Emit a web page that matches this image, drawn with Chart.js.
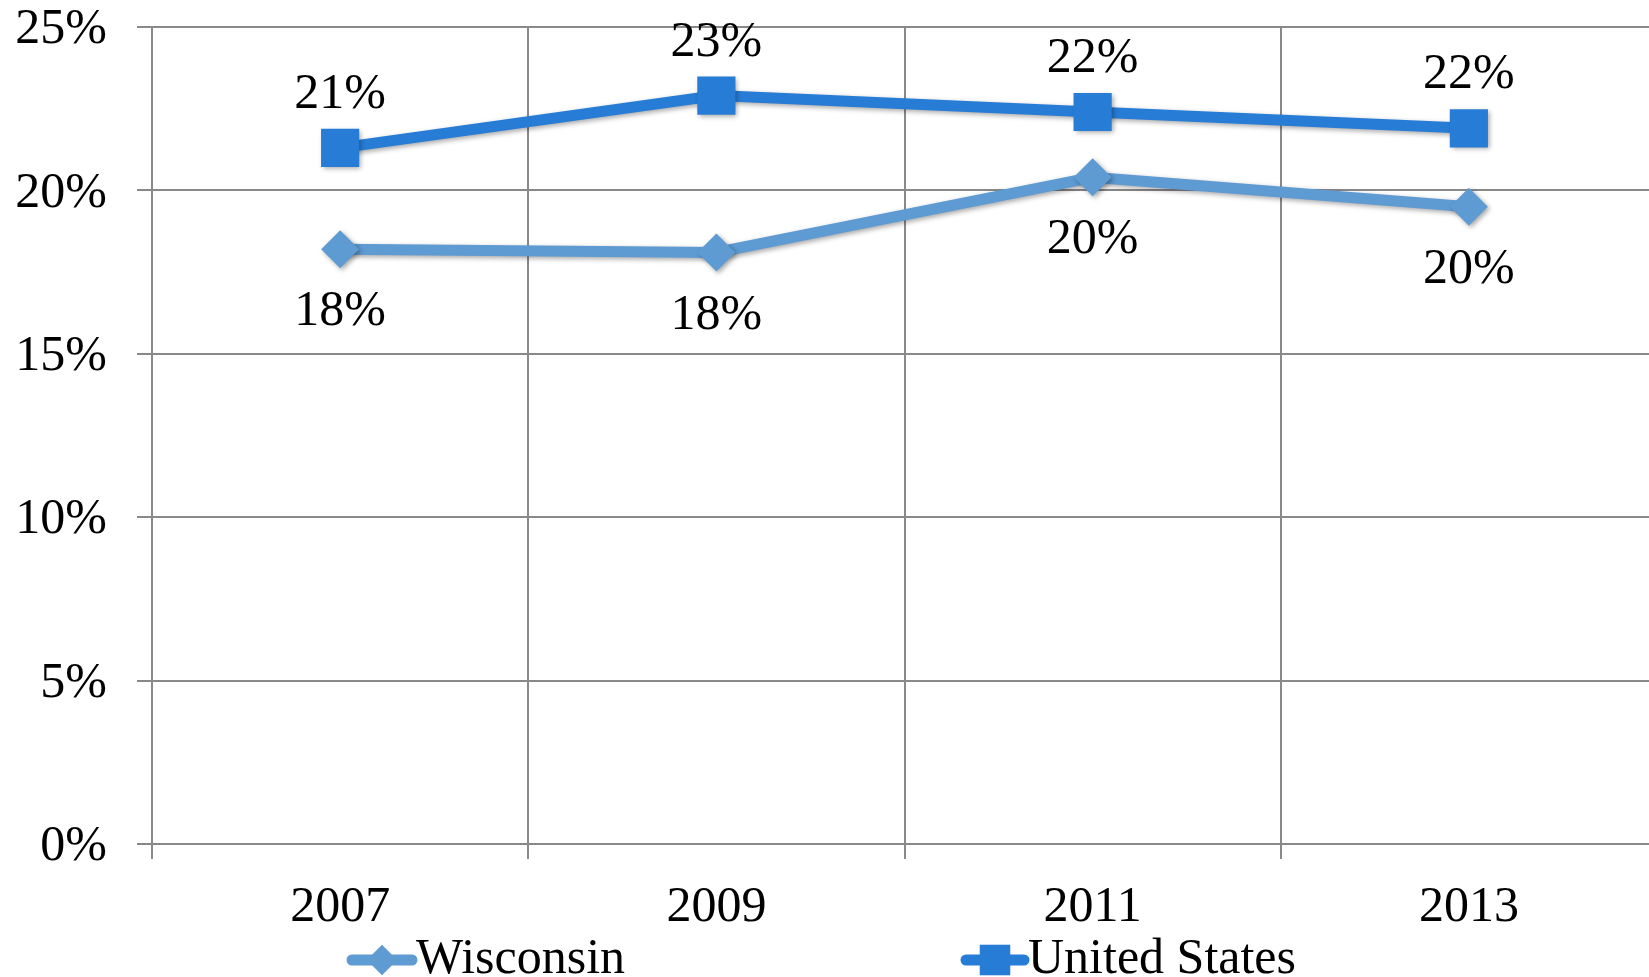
<!DOCTYPE html>
<html><head><meta charset="utf-8">
<script src="https://cdn.jsdelivr.net/npm/chart.js@4"></script>
<style>html,body{margin:0;padding:0;overflow:hidden;background:#fff}canvas{display:block}</style>
</head><body><canvas id="c" width="1684" height="977"></canvas>
<script>
const years = ['2007', '2009', '2011', '2013'];
const wisconsin = [18.2, 18.1, 20.4, 19.5];
const unitedStates = [21.3, 22.9, 22.4, 21.9];
const seriesNames = ['Wisconsin', 'United States'];
const yTickValues = [0, 5, 10, 15, 20, 25];

const FONT = '"Liberation Serif", "Times New Roman", serif';
const GRID = '#898989';

const shadowPlugin = {
  id: 'shadow',
  beforeDatasetsDraw(chart) {
    const ctx = chart.ctx;
    ctx.save();
    ctx.shadowColor = 'rgba(0,0,0,0.35)';
    ctx.shadowBlur = 5;
    ctx.shadowOffsetX = 2;
    ctx.shadowOffsetY = 2;
  },
  afterDatasetsDraw(chart) { chart.ctx.restore(); }
};

const dataLabels = {
  id: 'dataLabels',
  afterDatasetsDraw(chart) {
    const ctx = chart.ctx;
    ctx.save();
    ctx.font = '50px ' + FONT;
    ctx.fillStyle = '#000';
    ctx.textAlign = 'center';
    ctx.textBaseline = 'middle';
    chart.data.datasets.forEach((ds, i) => {
      const meta = chart.getDatasetMeta(i);
      meta.data.forEach((pt, j) => {
        ctx.fillText(Math.round(ds.data[j]) + '%', pt.x, pt.y + ds.labelOffset);
      });
    });
    ctx.restore();
  }
};

const legendPlugin = {
  id: 'customLegend',
  afterDraw(chart) {
    const ctx = chart.ctx;
    const slots = [{ x1: 352, x2: 412, tx: 416 }, { x1: 966, x2: 1024, tx: 1028 }];
    const y = 960;
    chart.data.datasets.forEach((ds, i) => {
      const s = slots[i];
      ctx.save();
      ctx.strokeStyle = ds.borderColor;
      ctx.lineWidth = ds.borderWidth;
      ctx.lineCap = 'round';
      ctx.beginPath(); ctx.moveTo(s.x1, y); ctx.lineTo(s.x2, y); ctx.stroke();
      ctx.fillStyle = ds.pointBackgroundColor;
      ctx.strokeStyle = ds.pointBackgroundColor;
      Chart.helpers.drawPoint(ctx, { pointStyle: ds.pointStyle, radius: ds.pointRadius * 0.8, rotation: 0, borderWidth: 0 }, (s.x1 + s.x2) / 2, y);
      ctx.font = '50px ' + FONT;
      ctx.fillStyle = '#000';
      ctx.textAlign = 'left';
      ctx.textBaseline = 'middle';
      ctx.fillText(ds.label, s.tx, y);
      ctx.restore();
    });
  }
};

new Chart(document.getElementById('c'), {
  type: 'line',
  data: {
    labels: years,
    datasets: [
      {
        label: seriesNames[0], data: wisconsin,
        borderColor: '#5E9BD3', backgroundColor: '#5E9BD3',
        pointBackgroundColor: '#5E9BD3', pointBorderWidth: 0,
        borderWidth: 11, pointStyle: 'rectRot', pointRadius: 19, pointHoverRadius: 19,
        tension: 0, labelOffset: 63
      },
      {
        label: seriesNames[1], data: unitedStates,
        borderColor: '#277CD6', backgroundColor: '#277CD6',
        pointBackgroundColor: '#277CD6', pointBorderWidth: 0,
        borderWidth: 11, pointStyle: 'rect', pointRadius: 27, pointHoverRadius: 27,
        tension: 0, labelOffset: -53
      }
    ]
  },
  options: {
    responsive: false,
    animation: false,
    events: [],
    layout: { padding: { top: 27, right: 20, left: 0, bottom: 0 } },
    plugins: { legend: { display: false }, tooltip: { enabled: false } },
    scales: {
      x: {
        offset: true,
        grid: { offset: true, color: GRID, lineWidth: 2, tickLength: 15, drawTicks: true },
        border: { color: GRID, width: 2 },
        ticks: { color: '#000', font: { family: FONT, size: 50, lineHeight: 1.2 }, padding: 19, maxRotation: 0 },
        afterFit(s) { s.height = 133; s.paddingLeft = 0; s.paddingRight = 0; }
      },
      y: {
        min: 0, max: 25,
        afterBuildTicks(s) { s.ticks = yTickValues.map(v => ({ value: v })); },
        grid: { color: GRID, lineWidth: 2, tickLength: 15, drawTicks: true },
        border: { color: GRID, width: 2 },
        ticks: { color: '#000', font: { family: FONT, size: 50, lineHeight: 1.0 }, padding: 30, labelOffset: 3, callback: v => v + '%' },
        afterFit(s) { s.width = 152; s.paddingTop = 0; s.paddingBottom = 0; }
      }
    }
  },
  plugins: [shadowPlugin, dataLabels, legendPlugin]
});
</script>
</body></html>
